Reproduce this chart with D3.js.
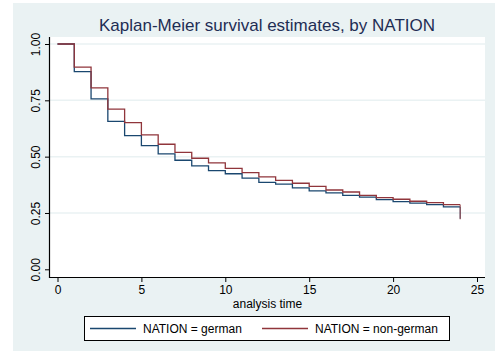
<!DOCTYPE html>
<html>
<head>
<meta charset="utf-8">
<script src="https://cdn.jsdelivr.net/npm/d3@7"></script>
<style>
  body { margin: 0; background: #ffffff; }
  svg { display: block; font-family: "Liberation Sans", Arial, sans-serif; }
</style>
</head>
<body>
<div id="chart"></div>
<script>
// analysis time points and survival estimates
const TIMES = [0, 1, 2, 3, 4, 5, 6, 7, 8, 9, 10, 11, 12, 13, 14, 15, 16, 17, 18, 19, 20, 21, 22, 23, 24];
const GERMAN = [1.000, 0.877, 0.756, 0.657, 0.593, 0.549, 0.512, 0.484, 0.459, 0.438, 0.424, 0.405, 0.386,
                0.378, 0.361, 0.348, 0.339, 0.328, 0.320, 0.309, 0.300, 0.294, 0.287, 0.277, 0.224];
const NON_GERMAN = [1.000, 0.897, 0.805, 0.711, 0.651, 0.597, 0.555, 0.519, 0.493, 0.472, 0.448, 0.429, 0.410,
                    0.395, 0.382, 0.368, 0.352, 0.343, 0.328, 0.318, 0.311, 0.302, 0.296, 0.287, 0.222];
const SERIES_NAMES = ["NATION = german", "NATION = non-german"];
const X_TICKS = [0, 5, 10, 15, 20, 25];
const Y_TICKS = [0, 0.25, 0.5, 0.75, 1];

const WIDTH = 495, HEIGHT = 353;
const PLOT = { left: 50, right: 485, top: 37, bottom: 277 };
const COLORS = ["#1a476f", "#90353b"];

const svg = d3.select("#chart").append("svg")
    .attr("width", WIDTH)
    .attr("height", HEIGHT);

// graph region background
svg.append("rect")
    .attr("x", 13).attr("y", 3)
    .attr("width", WIDTH - 13).attr("height", 348)
    .attr("fill", "#eaf2f3");

// plot region
svg.append("rect")
    .attr("x", PLOT.left).attr("y", PLOT.top)
    .attr("width", PLOT.right - PLOT.left).attr("height", PLOT.bottom - PLOT.top)
    .attr("fill", "#ffffff");

const xScale = d3.scaleLinear().domain([0, 25]).range([57.5, 477]);
const yScale = d3.scaleLinear().domain([0, 1]).range([269.3, 44]);

// gridlines
svg.append("g")
    .selectAll("line")
    .data(Y_TICKS.filter(d => d > 0))
    .enter()
    .append("line")
    .attr("x1", PLOT.left).attr("x2", PLOT.right)
    .attr("y1", d => yScale(d)).attr("y2", d => yScale(d))
    .attr("stroke", "#eaf2f3")
    .attr("stroke-width", 1.5);

// survival step lines
const line = d3.line()
    .x(d => xScale(d[0]))
    .y(d => yScale(d[1]))
    .curve(d3.curveStepAfter);

function stepData(values) {
    const pts = TIMES.map((t, i) => [t, values[i]]);
    return pts;
}

// Stata-ish: last point is a drop at the final time, draw it vertically
function drawSeries(values, color) {
    const pts = stepData(values);
    const last = pts.length - 1;
    const main = pts.slice(0, last);
    main.push([TIMES[last], values[last - 1]]);
    svg.append("path")
        .datum(main)
        .attr("d", line)
        .attr("fill", "none")
        .attr("stroke", color)
        .attr("stroke-width", 1.3);
    svg.append("line")
        .attr("x1", xScale(TIMES[last])).attr("x2", xScale(TIMES[last]))
        .attr("y1", yScale(values[last - 1])).attr("y2", yScale(values[last]))
        .attr("stroke", color)
        .attr("stroke-opacity", 0.7)
        .attr("stroke-width", 1.3);
}
drawSeries(GERMAN, COLORS[0]);
drawSeries(NON_GERMAN, COLORS[1]);

// axes
const xAxis = svg.append("g")
    .attr("transform", "translate(0," + PLOT.bottom + ")")
    .call(d3.axisBottom(xScale).tickValues(X_TICKS).tickSize(5).tickPadding(3));
xAxis.select(".domain").attr("d", "M" + (PLOT.left - 1) + ",0.5H" + PLOT.right).attr("stroke", "#000").attr("stroke-width", 1.2);
xAxis.selectAll("text").attr("font-size", "12px").attr("fill", "#000").attr("font-family", "Liberation Sans, Arial, sans-serif");

const yAxis = svg.append("g")
    .attr("transform", "translate(" + PLOT.left + ",0)")
    .call(d3.axisLeft(yScale).tickValues(Y_TICKS).tickSize(5).tickFormat(d3.format(".2f")));
yAxis.select(".domain").attr("d", "M-0.5," + PLOT.top + "V" + (PLOT.bottom + 1)).attr("stroke", "#000").attr("stroke-width", 1.2);
yAxis.selectAll("text")
    .attr("font-size", "12px")
    .attr("fill", "#000")
    .attr("font-family", "Liberation Sans, Arial, sans-serif")
    .attr("x", null).attr("dy", null)
    .attr("text-anchor", "middle")
    .attr("transform", "translate(-10,0) rotate(-90)");

// axis title
svg.append("text")
    .attr("x", (PLOT.left + PLOT.right) / 2)
    .attr("y", 308)
    .attr("text-anchor", "middle")
    .attr("font-size", "12px")
    .text("analysis time");

// title
svg.append("text")
    .attr("x", 267)
    .attr("y", 31)
    .attr("text-anchor", "middle")
    .attr("font-size", "17px")
    .attr("fill", "#1e2d53")
    .text("Kaplan-Meier survival estimates, by NATION");

// legend
const legend = svg.append("g");
legend.append("rect")
    .attr("x", 84.5).attr("y", 316.5)
    .attr("width", 365).attr("height", 24)
    .attr("fill", "#fff").attr("stroke", "#000").attr("stroke-width", 1);
const LEGEND_X = [90, 262];
SERIES_NAMES.forEach((name, i) => {
    legend.append("line")
        .attr("x1", LEGEND_X[i]).attr("x2", LEGEND_X[i] + 46)
        .attr("y1", 328.5).attr("y2", 328.5)
        .attr("stroke", COLORS[i]).attr("stroke-width", 1.3);
    legend.append("text")
        .attr("x", LEGEND_X[i] + 53)
        .attr("y", 332.5)
        .attr("font-size", "12px")
        .text(name);
});
</script>
</body>
</html>
